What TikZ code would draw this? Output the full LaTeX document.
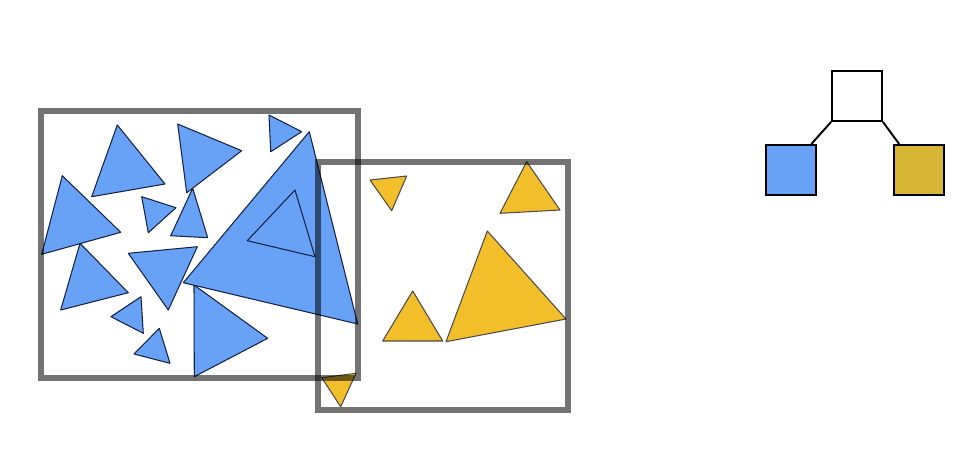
\documentclass[tikz,border=0pt]{standalone}
\usepackage{xcolor}
\usepackage{tikz}
\usetikzlibrary{positioning}
\definecolor{triblue}{RGB}{104, 162, 247}
\definecolor{triyellow}{RGB}{242, 191, 42}
\definecolor{sqyellow}{RGB}{214, 182, 52}
\definecolor{edgeblue}{RGB}{22, 34, 70}
\tikzset{
  bluetri/.style={draw=edgeblue, fill=triblue, line width=0.6pt, line join=round},
  yellowtri/.style={draw=black!70, fill=triyellow, line width=0.6pt, line join=round},
  frame/.style={draw=black, draw opacity=0.55, line width=3.4pt},
  leaf/.style={draw=black, line width=1.1pt, minimum size=1cm, inner sep=0pt},
  link/.style={draw=black, line width=1.1pt},
}

\begin{document}
\begin{tikzpicture}[x=0.02cm, y=-0.02cm]
\useasboundingbox (0,0) rectangle (971,458);

% blue triangles
\draw[bluetri] (117.3,125) -- (91.7,196.7) -- (165,184) -- cycle;
\draw[bluetri] (177.7,124) -- (241.7,150.7) -- (186.7,192.7) -- cycle;
\draw[bluetri] (269,115) -- (301.7,131.7) -- (270.7,151.7) -- cycle;
\draw[bluetri] (62.3,175.7) -- (41.7,254.3) -- (120.7,232.3) -- cycle;
\draw[bluetri] (141.7,196.7) -- (176,207.7) -- (148.3,232.7) -- cycle;
\draw[bluetri] (192.7,188.3) -- (170.7,235.7) -- (207.7,237.7) -- cycle;
\draw[bluetri] (80,243.3) -- (60.7,310) -- (128.3,292.7) -- cycle;
\draw[bluetri] (128.3,253.3) -- (197.3,246.7) -- (168.3,310) -- cycle;
\draw[bluetri] (141,296.7) -- (111,316.7) -- (143.3,333.3) -- cycle;
\draw[bluetri] (159.3,328.3) -- (134,354) -- (170,363.3) -- cycle;
\draw[bluetri] (194,285) -- (194.3,376.7) -- (267.7,338.3) -- cycle;
\draw[bluetri] (309.3,131.7) -- (183.3,282.7) -- (357.7,324) -- cycle;
\draw[bluetri] (295,190) -- (247.3,240.7) -- (315,256.7) -- cycle;

% yellow triangles
\draw[yellowtri] (370,180) -- (406.7,176) -- (391.7,210.7) -- cycle;
\draw[yellowtri] (526.7,161.7) -- (500,213.3) -- (560,210) -- cycle;
\draw[yellowtri] (412.7,291) -- (382.7,341) -- (442.7,341) -- cycle;
\draw[yellowtri] (487.3,231) -- (446,341.7) -- (566,319) -- cycle;
\draw[yellowtri] (321.7,377.7) -- (356,373.3) -- (340.7,406.7) -- cycle;

% bounding frames
\draw[frame] (41,111) rectangle (358,378);
\draw[frame] (318,162) rectangle (568,410);

% tree
\node[leaf, fill=white] (root) at (857,96) {};
\node[leaf, fill=triblue, below left=0.44cm and 0.28cm of root] (left) {};
\node[leaf, fill=sqyellow, below right=0.44cm and 0.21cm of root] (right) {};

\draw[link] (root.south west) -- (left.52);
\draw[link] (root.south east) -- (right.128);

\end{tikzpicture}
\end{document}
